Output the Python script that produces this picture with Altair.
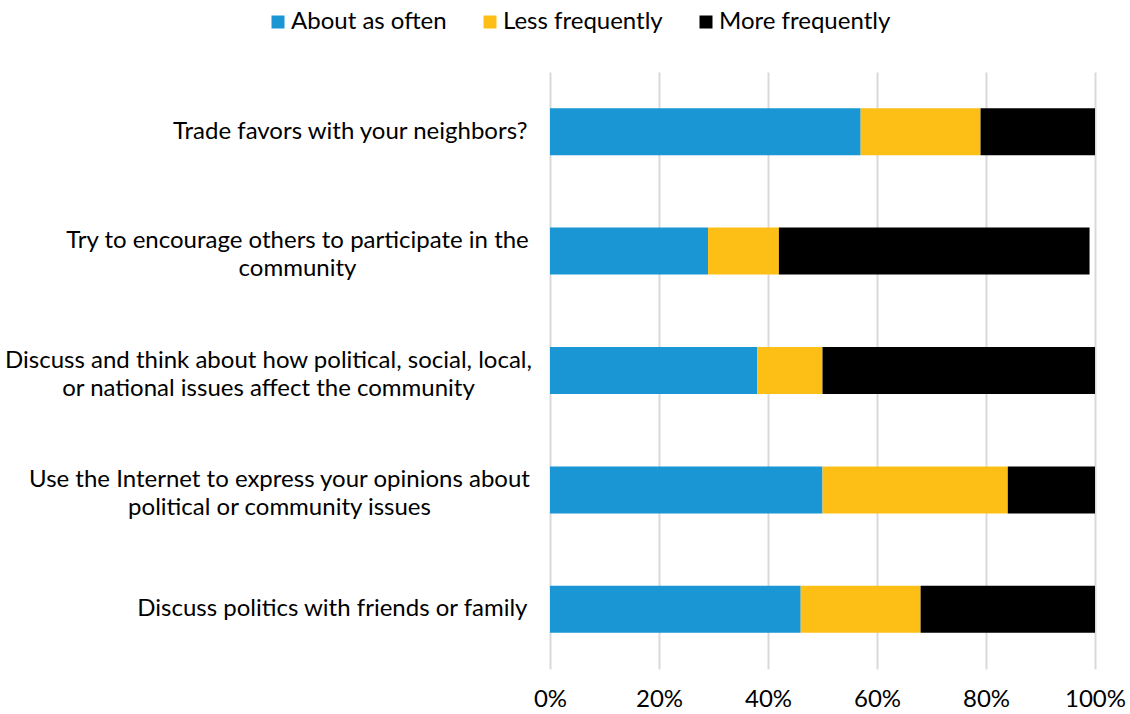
import altair as alt
import pandas as pd

categories = [
    "Trade favors with your neighbors?",
    "Try to encourage others to participate in the\ncommunity",
    "Discuss and think about how political, social, local,\nor national issues affect the community",
    "Use the Internet to express your opinions about\npolitical or community issues",
    "Discuss politics with friends or family",
]
series = ["About as often", "Less frequently", "More frequently"]
about_as_often = [57, 29, 38, 50, 46]
less_frequently = [22, 13, 12, 34, 22]
more_frequently = [21, 57, 50, 16, 32]
colors = ["#1996D3", "#FDBF16", "#000000"]

rows = []
for i, c in enumerate(categories):
    for j, (s, vals) in enumerate(zip(series, [about_as_often, less_frequently, more_frequently])):
        rows.append({"category": c, "series": s, "value": vals[i], "order": j})
df = pd.DataFrame(rows)

FONT = "Lato"
FS = 24

MULTI = "indexof(datum.value, '\\n') >= 0"
label_padding = {
    "condition": [
        {"test": "indexof(datum.value, 'encourage') >= 0", "value": 253},
        {"test": "indexof(datum.value, 'think about') >= 0", "value": 282},
        {"test": "indexof(datum.value, 'Internet') >= 0", "value": 271},
    ],
    "value": 23,
}
label_align = {"condition": {"test": MULTI, "value": "center"}, "value": "right"}
label_offset = {"condition": {"test": MULTI, "value": -10}, "value": 0}

chart = (
    alt.Chart(df)
    .mark_bar(size=47)
    .encode(
        y=alt.Y(
            "category:N",
            sort=categories,
            title=None,
            scale=alt.Scale(paddingInner=0.6, paddingOuter=0.3),
            axis=alt.Axis(
                labelExpr="split(datum.label, '\\n')",
                labelFont=FONT,
                labelFontSize=FS,
                labelColor="#000000",
                labelAlign=label_align,
                labelPadding=label_padding,
                labelOffset=label_offset,
                labelLineHeight=28,
                ticks=False,
                domain=False,
                labelLimit=600,
            ),
        ),
        x=alt.X(
            "value:Q",
            stack="zero",
            title=None,
            scale=alt.Scale(domain=[0, 100], nice=False),
            axis=alt.Axis(
                values=[0, 20, 40, 60, 80, 100],
                labelExpr="datum.value + '%'",
                labelFont=FONT,
                labelFontSize=FS,
                labelColor="#000000",
                labelPadding=18,
                labelFlush=False,
                grid=True,
                gridColor="#D9D9D9",
                gridWidth=2,
                ticks=False,
                domain=False,
                orient="bottom",
            ),
        ),
        color=alt.Color(
            "series:N",
            sort=series,
            scale=alt.Scale(domain=series, range=colors),
            legend=alt.Legend(
                title=None,
                orient="none",
                legendX=-284,
                legendY=-62,
                direction="horizontal",
                symbolType="square",
                symbolSize=169,
                symbolStrokeWidth=0,
                labelFont=FONT,
                labelFontSize=FS,
                labelColor="#000000",
                labelLimit=400,
                columnPadding=31,
                labelOffset=1,
            ),
        ),
        order=alt.Order("order:Q"),
    )
    .properties(width=545, height=597)
    .configure(
        autosize=alt.AutoSizeParams(type="none"),
        padding={"left": 550, "top": 72, "right": 35, "bottom": 45},
        background="white",
        view=alt.ViewConfig(stroke=None),
    )
)

chart.save("out.html", embed_options={"renderer": "svg", "actions": False})
